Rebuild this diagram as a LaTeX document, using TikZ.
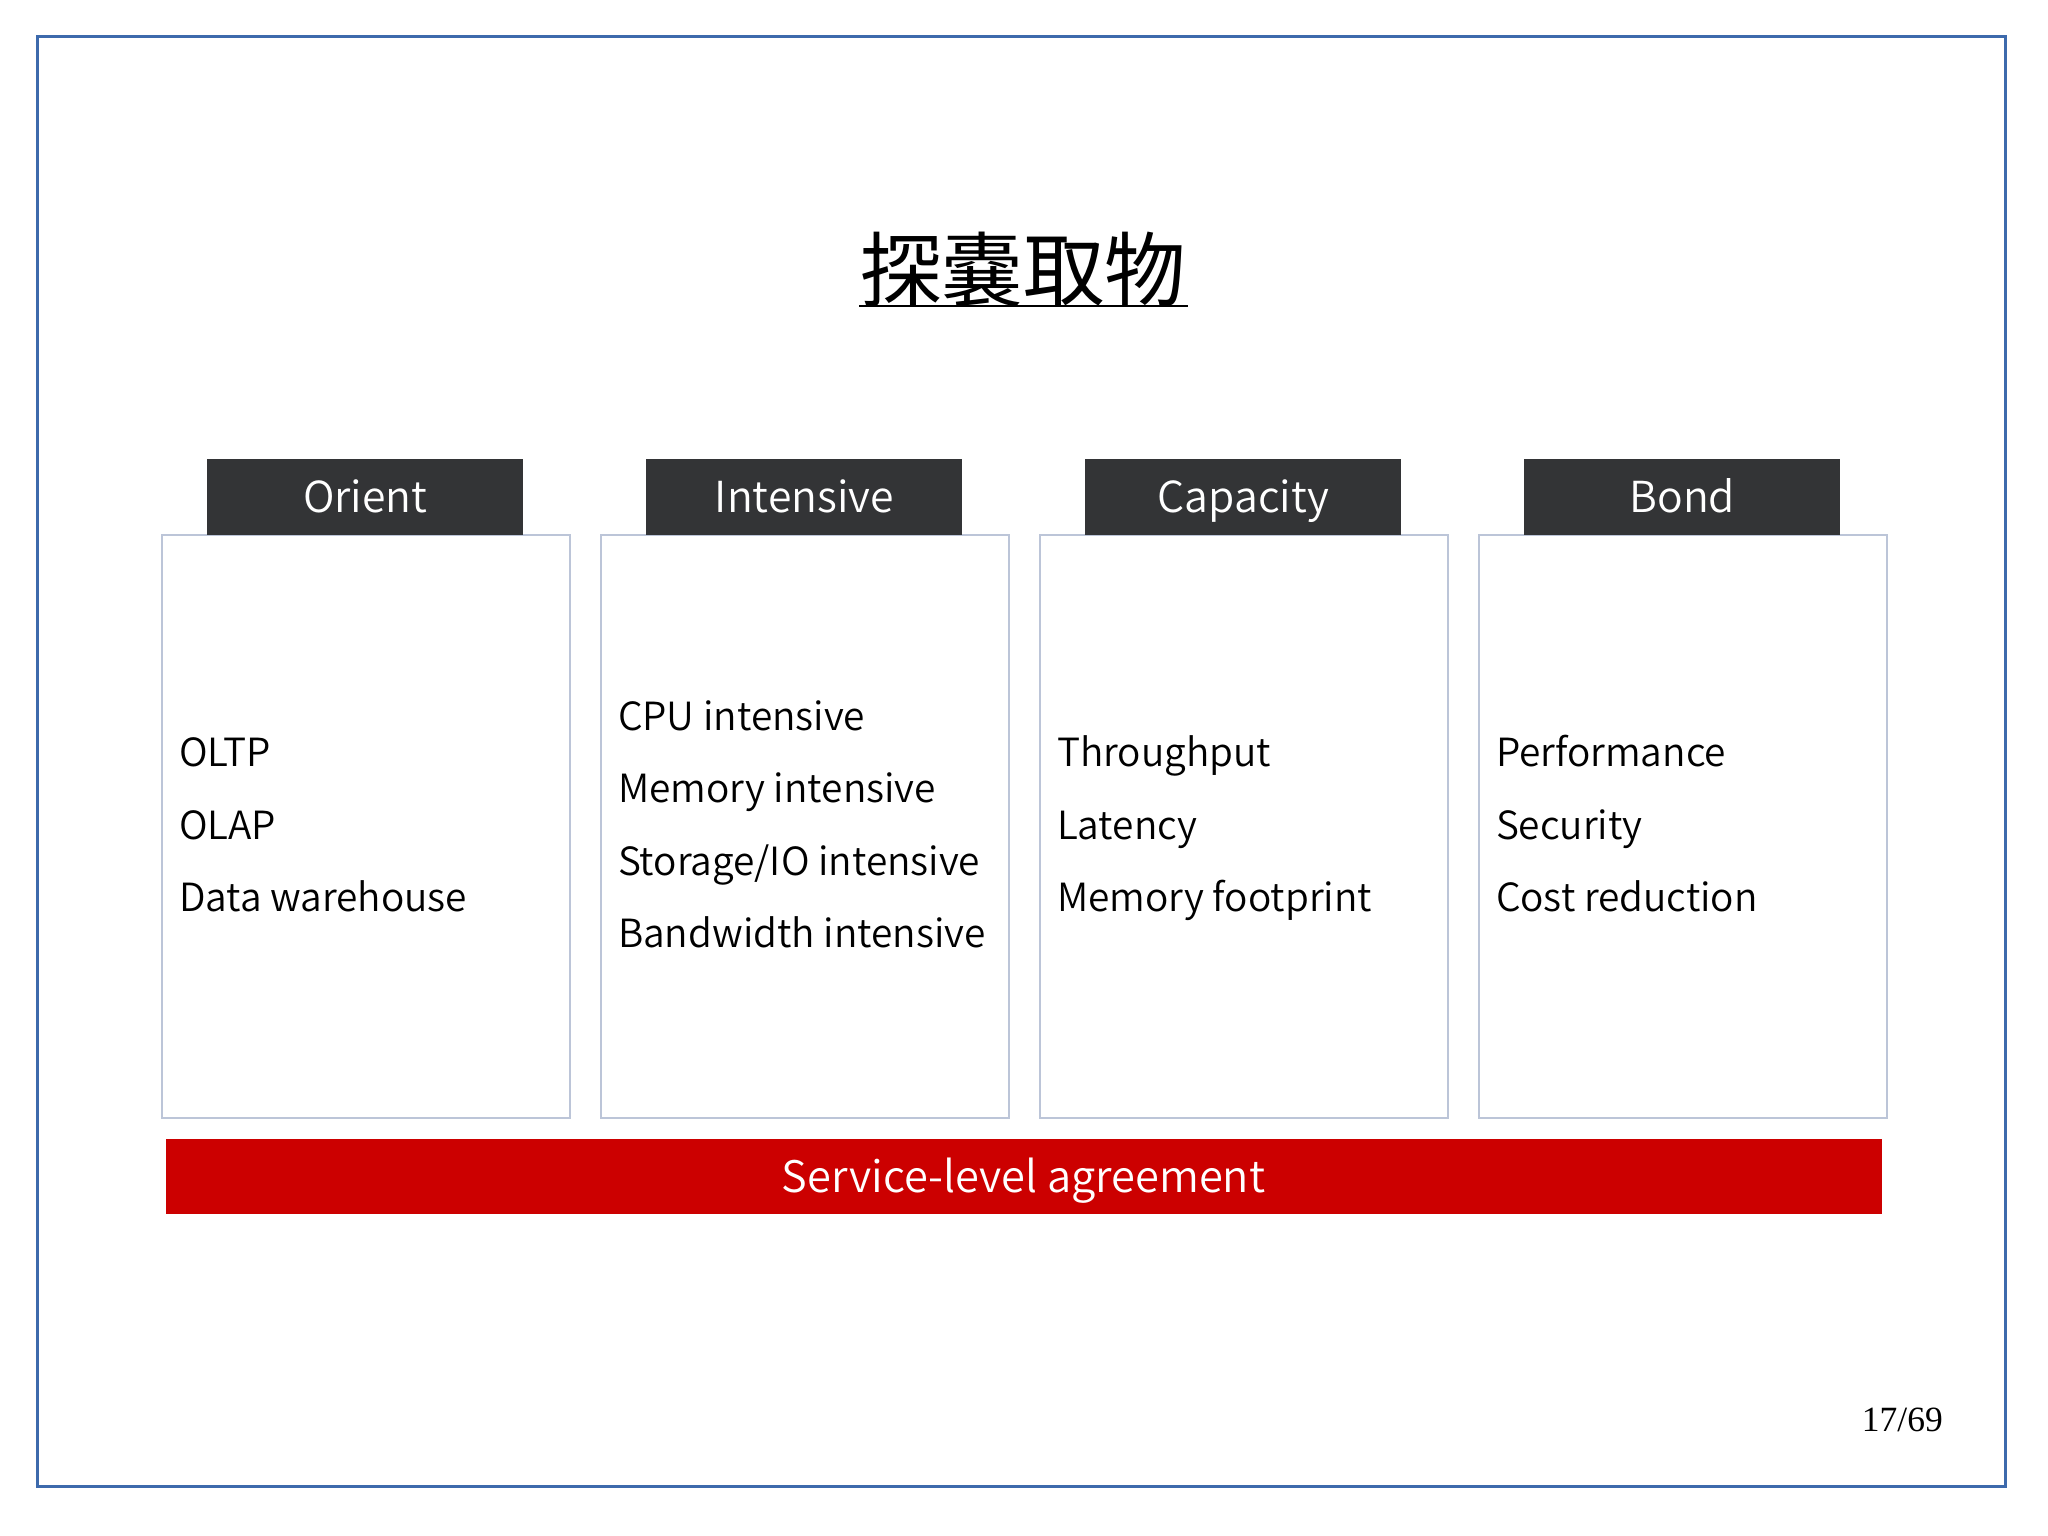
\documentclass[tikz,border=0pt]{standalone}
\usepackage{fontspec}
\IfFontExistsTF{Noto Sans CJK JP DemiLight}
  {\setmainfont{Noto Sans CJK JP DemiLight}}
  {\setmainfont{Noto Sans CJK JP}}
\newfontfamily\titlefont{Noto Sans CJK JP}
\newfontfamily\pagefont{Liberation Serif}
\definecolor{frameblue}{HTML}{3D6AAC}
\definecolor{headdark}{HTML}{333436}
\definecolor{boxline}{HTML}{BCC5D8}
\definecolor{slared}{HTML}{CC0000}
\begin{document}
\begin{tikzpicture}[x=1pt,y=-1pt,
  header/.style={fill=headdark,draw=none,minimum width=316pt,minimum height=76pt,inner sep=0pt,anchor=north},
  headtext/.style={anchor=base,inner sep=0pt,text=white,font=\fontsize{42.7}{50}\selectfont},
  panel/.style={draw=boxline,line width=1.2pt,fill=white,minimum width=408pt,minimum height=583pt,inner sep=0pt,anchor=north west},
  item/.style={anchor=base west,inner sep=0pt,font=\fontsize{38.8}{46}\selectfont,text=black},
]
\useasboundingbox (0,0) rectangle (2048,1535);
\fill[white] (0,0) rectangle (2048,1535);
\draw[frameblue,line width=3pt] (37.3,36.8) rectangle (2005.7,1486);
% title
\node[anchor=base,inner sep=0pt,font=\titlefont\fontsize{81.5}{90}\selectfont] (title) at (1023.2,300) {探嚢取物};
\coordinate (ulL) at (859,306);
\coordinate (ulR) at (1188.3,306);
\draw[line width=2.8pt] (ulL) -- (ulR);
% panels and headers
\foreach \i/\px/\h in {1/161.3/Orient,2/600.3/Intensive,3/1039.3/Capacity,4/1478.3/Bond}{
  \node[panel] (p\i) at (\px,534.3) {};
  \node[header] (h\i) at (\px+204,458.3) {};
  \node[headtext] (t\i) at (\px+204,512.3) {\h};
}
% items
\node[item] (a1) at (178.8,766.7) {OLTP};
\node[item] (a2) at (178.8,839.2) {OLAP};
\node[item] (a3) at (178.8,911.7) {Data warehouse};
\node[item] (b1) at (617.8,730.4) {CPU intensive};
\node[item] (b2) at (617.8,802.9) {Memory intensive};
\node[item] (b3) at (617.8,875.4) {Storage/IO intensive};
\node[item] (b4) at (617.8,947.9) {Bandwidth intensive};
\node[item] (c1) at (1056.8,766.7) {Throughput};
\node[item] (c2) at (1056.8,839.2) {Latency};
\node[item] (c3) at (1056.8,911.7) {Memory footprint};
\node[item] (d1) at (1495.8,766.7) {Performance};
\node[item] (d2) at (1495.8,839.2) {Security};
\node[item] (d3) at (1495.8,911.7) {Cost reduction};
% SLA bar
\node[fill=slared,minimum width=1715.6pt,minimum height=75.3pt,inner sep=0pt,anchor=north west] (sla) at (165.7,1138.7) {};
\node[headtext,font=\fontsize{43.4}{50}\selectfont] (slatext) at (1023.5,1192.5) {Service-level agreement};
% page number
\node[anchor=base,inner sep=0pt,font=\pagefont\fontsize{35.5}{40}\selectfont] (pg) at (1902.3,1431.7) {17/69};
\end{tikzpicture}
\end{document}
